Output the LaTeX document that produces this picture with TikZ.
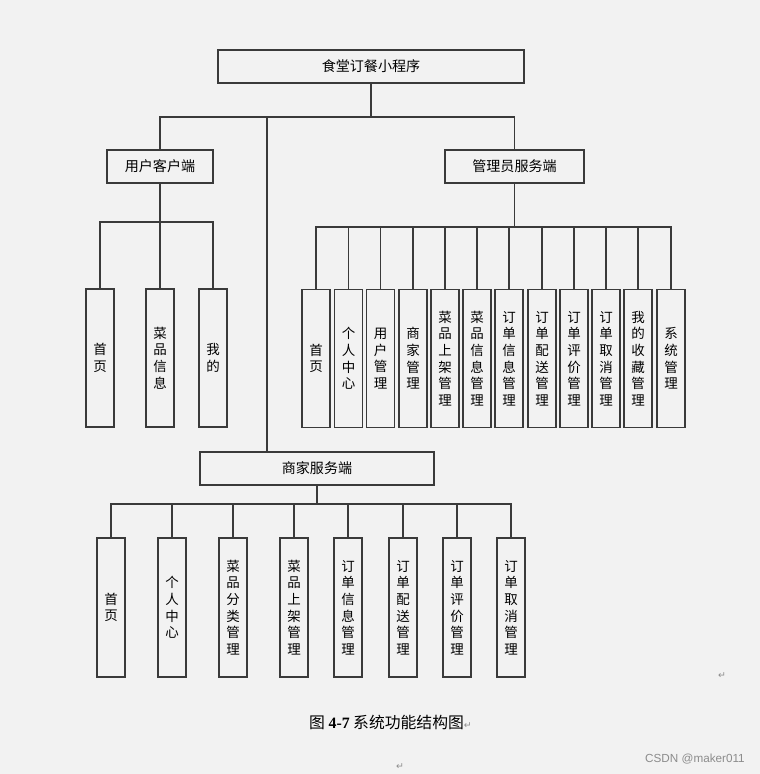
\documentclass[tikz,border=0pt]{standalone}
\usepackage{fontspec}
\newfontfamily\cjk{Noto Sans CJK SC}
\newfontfamily\tnr{Liberation Serif}
\newfontfamily\symfont{DejaVu Sans}
\newfontfamily\wmfont{Liberation Sans}
\usetikzlibrary{positioning}
\definecolor{pagebg}{HTML}{F2F2F2}
\definecolor{boxline}{HTML}{3A3A3A}

\begin{document}
\begin{tikzpicture}[
        x=0.03cm, y=-0.03cm,
        head/.style={draw=boxline, line width=0.9pt, inner sep=0pt, minimum height=0.99cm,
            font=\cjk\fontsize{12}{14}\selectfont},
        leaf/.style={draw=boxline, line width=0.9pt, inner sep=0pt, minimum width=0.84cm,
            minimum height=4.14cm, align=center, font=\cjk\fontsize{11.5}{14.2}\selectfont},
        link/.style={draw=boxline, line width=0.9pt},
        retmark/.style={inner sep=0pt, text=black!45, font=\symfont\fontsize{8}{9}\selectfont}
    ]
    \fill[pagebg] (0,0) rectangle (760,774);

    % top levels
    \node[head, minimum width=9.18cm] (root) at (371,66.5) {食堂订餐小程序};
    \node[head, minimum width=3.18cm] (user) at (160,166.5) {用户客户端};
    \node[head, minimum width=4.17cm] (admin) at (514.5,166.5) {管理员服务端};
    \node[head, minimum width=7.02cm] (shop) at (317,468.5) {商家服务端};

    \coordinate (topbar) at (371,117);
    \coordinate (shopjoin) at (267,117);
    \coordinate (ubar) at (160,222);
    \coordinate (abar) at (514.5,227);
    \coordinate (sbar) at (317,504);

    \draw[link] (root.south) -- (topbar);
    \draw[link] (user.north) |- (topbar);
    \draw[link] (admin.north) |- (topbar);
    \draw[link] (shopjoin) -- (shopjoin |- shop.north);

    % user client
    \draw[link] (user.south) -- (ubar);
    \foreach \name/\x/\txt in {u1/100/首\\页, u2/160/菜\\品\\信\\息, u3/213/我\\的} {
        \node[leaf] (\name) at (\x,358) {\txt};
        \draw[link] (\name.north) |- (ubar);
    }

    % admin
    \draw[link] (admin.south) -- (abar);
    \foreach \name/\x/\txt in {a1/316/首\\页, a2/348.5/个\\人\\中\\心, a3/380.5/用\\户\\管\\理,
            a4/413/商\\家\\管\\理, a5/445/菜\\品\\上\\架\\管\\理, a6/477/菜\\品\\信\\息\\管\\理,
            a7/509/订\\单\\信\\息\\管\\理, a8/542/订\\单\\配\\送\\管\\理, a9/574/订\\单\\评\\价\\管\\理,
            a10/606/订\\单\\取\\消\\管\\理, a11/638/我\\的\\收\\藏\\管\\理, a12/671/系\\统\\管\\理} {
        \node[leaf] (\name) at (\x,358.5) {\txt};
        \draw[link] (\name.north) |- (abar);
    }

    % merchant
    \draw[link] (shop.south) -- (sbar);
    \foreach \name/\x/\txt in {s1/111/首\\页, s2/172/个\\人\\中\\心, s3/233/菜\\品\\分\\类\\管\\理,
            s4/294/菜\\品\\上\\架\\管\\理, s5/348/订\\单\\信\\息\\管\\理, s6/403/订\\单\\配\\送\\管\\理,
            s7/457/订\\单\\评\\价\\管\\理, s8/511/订\\单\\取\\消\\管\\理} {
        \node[leaf, minimum height=4.17cm] (\name) at (\x,607.5) {\txt};
        \draw[link] (\name.north) |- (sbar);
    }

    % caption and page marks
    \node[anchor=west, inner sep=0pt, font=\fontsize{13.5}{16}\selectfont] (caption) at (309,722)
        {\cjk 图 {\tnr\bfseries 4-7} 系统功能结构图\textcolor{black!45}{\symfont\fontsize{8}{9}\selectfont ↵}};
    \node[retmark] (mark1) at (722,676) {↵};
    \node[retmark] (mark2) at (400,767) {↵};
    \node[anchor=east, inner sep=0pt, text=black!45, font=\wmfont\fontsize{10}{12}\selectfont] (wm) at (745,759) {CSDN @maker011};
\end{tikzpicture}
\end{document}
